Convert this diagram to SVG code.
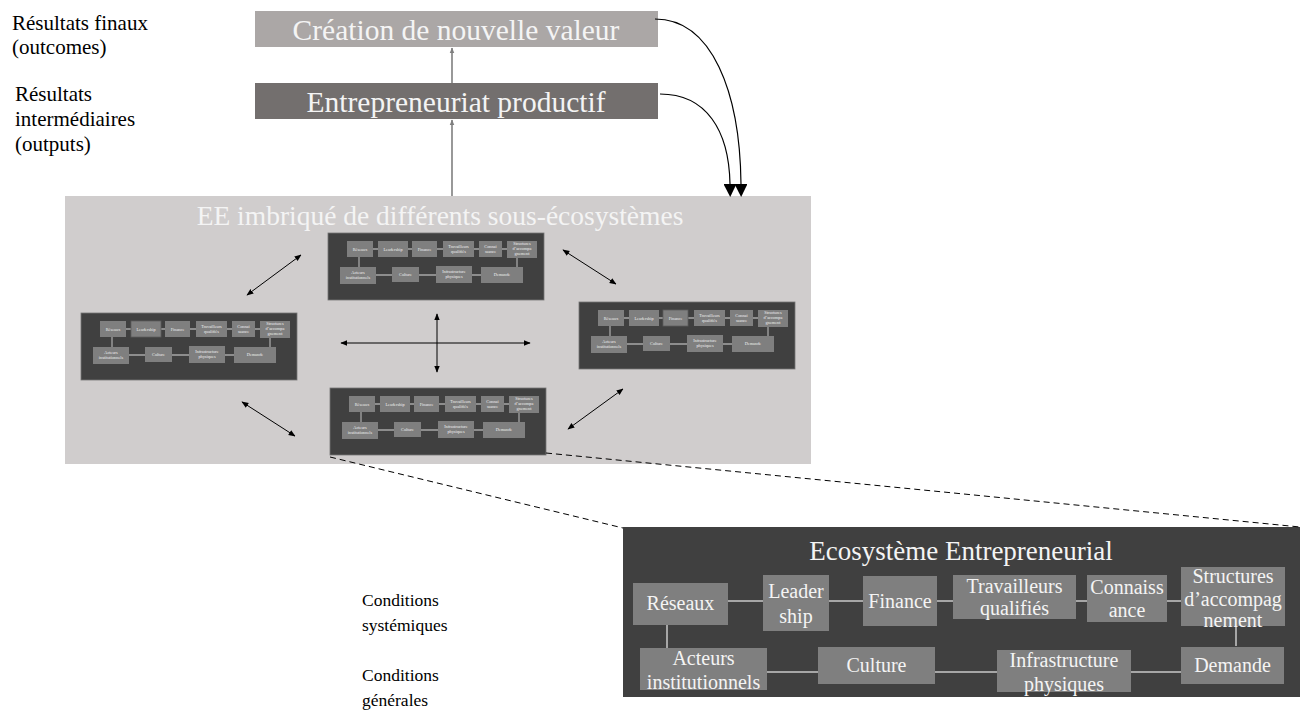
<svg xmlns="http://www.w3.org/2000/svg" xmlns:xlink="http://www.w3.org/1999/xlink" width="1304" height="713" viewBox="0 0 1304 713">
<style>
text{font-family:"Liberation Serif","Times New Roman",serif}
.lbl{fill:#000}
.wt{fill:#f4f4f4;text-anchor:middle}
.it{fill:#7f7f7f}
.ln{stroke:#a6a6a6;fill:none}
.mt{fill:#f0f0f0;text-anchor:middle;font-size:4.3px}
.dbl{stroke:#000;stroke-width:1;fill:none;marker-start:url(#ah);marker-end:url(#ah)}
.gar{stroke:#7f7f7f;stroke-width:1.6;fill:none;marker-end:url(#gh)}
</style>
<defs>
<marker id="ah" viewBox="0 0 10 10" refX="9" refY="5" markerWidth="7" markerHeight="7" markerUnits="userSpaceOnUse" orient="auto-start-reverse"><path d="M0,1 L10,5 L0,9 z" fill="#000"/></marker>
<marker id="gh" viewBox="0 0 10 10" refX="9" refY="5" markerWidth="6" markerHeight="6" markerUnits="userSpaceOnUse" orient="auto"><path d="M0,1 L10,5 L0,9 z" fill="#7f7f7f"/></marker>
<marker id="bh" viewBox="0 0 13 13" refX="0" refY="6.5" markerWidth="13" markerHeight="13" markerUnits="userSpaceOnUse" orient="auto"><path d="M0,0 L13,6.5 L0,13 z" fill="#000"/></marker>
<g id="mini">
<rect x="0" y="0" width="216" height="67" fill="#404040" stroke="#757575" stroke-width="0.8"/>
<path class="ln" stroke-width="1.3" d="M45,16 H179 M48,42 H153 M31,24 V34 M189,25 V34"/>
<rect class="it" x="19" y="8" width="26" height="16"/>
<rect class="it" x="50" y="8" width="30" height="16"/>
<rect class="it" x="84" y="8" width="25" height="16"/>
<rect class="it" x="115" y="8" width="31" height="16"/>
<rect class="it" x="151" y="8" width="23" height="16"/>
<rect class="it" x="179" y="8" width="30" height="17"/>
<rect class="it" x="12" y="34" width="36" height="17"/>
<rect class="it" x="64" y="34" width="27" height="15"/>
<rect class="it" x="108" y="33" width="36" height="17"/>
<rect class="it" x="153" y="34" width="42" height="16"/>
<text class="mt" x="32" y="17.5">Réseaux</text>
<text class="mt" x="65" y="17.5">Leadership</text>
<text class="mt" x="96.5" y="17.5">Finance</text>
<text class="mt" x="130.5" y="15">Travailleurs</text>
<text class="mt" x="130.5" y="20">qualifiés</text>
<text class="mt" x="162.5" y="15">Connai</text>
<text class="mt" x="162.5" y="20">ssance</text>
<text class="mt" x="194" y="11.5">Structures</text>
<text class="mt" x="194" y="16.5">d’accompa</text>
<text class="mt" x="194" y="21.5">gnement</text>
<text class="mt" x="30" y="41">Acteurs</text>
<text class="mt" x="30" y="46">institutionnels</text>
<text class="mt" x="77.5" y="43">Culture</text>
<text class="mt" x="126" y="40">Infrastructure</text>
<text class="mt" x="126" y="45">physiques</text>
<text class="mt" x="174" y="43">Demande</text>
</g>
</defs>
<rect width="1304" height="713" fill="#fff"/>

<g id="labels">
<text class="lbl" x="12" y="30" font-size="21">Résultats finaux</text>
<text class="lbl" x="12" y="54" font-size="21">(outcomes)</text>
<text class="lbl" x="15" y="101" font-size="21">Résultats</text>
<text class="lbl" x="15" y="126" font-size="21">intermédiaires</text>
<text class="lbl" x="15" y="151" font-size="21">(outputs)</text>
<text class="lbl" x="362" y="606" font-size="17.5">Conditions</text>
<text class="lbl" x="362" y="631" font-size="17.5">systémiques</text>
<text class="lbl" x="362" y="681" font-size="17.5">Conditions</text>
<text class="lbl" x="362" y="706" font-size="17.5">générales</text>
</g>

<g id="ee">
<rect x="65" y="196" width="746" height="268" fill="#d0cdcd"/>
<text class="wt" x="440" y="225" font-size="27.5">EE imbriqué de différents sous-écosystèmes</text>
</g>

<g id="valeur">
<rect x="255" y="11" width="403" height="36" fill="#aba7a6"/>
<text class="wt" x="456" y="40" font-size="29.5">Création de nouvelle valeur</text>
</g>
<g id="productif">
<rect x="255" y="83" width="403" height="36" fill="#736f6e"/>
<text class="wt" x="456" y="112" font-size="29.5">Entrepreneuriat productif</text>
</g>

<g id="eco-top"><use xlink:href="#mini" x="328" y="233"/></g>
<g id="eco-left"><use xlink:href="#mini" x="81" y="313"/><rect x="131" y="321" width="30" height="16" fill="none" stroke="#5c5c5c" stroke-width="0.8"/></g>
<g id="eco-right"><use xlink:href="#mini" x="579" y="302"/><rect x="663" y="310" width="25" height="16" fill="none" stroke="#5c5c5c" stroke-width="0.8"/></g>
<g id="eco-bottom"><use xlink:href="#mini" x="330" y="388"/></g>

<g id="eco-big">
<rect x="623" y="527" width="677" height="170" fill="#404040"/>
<text class="wt" x="961" y="560" font-size="27">Ecosystème Entrepreneurial</text>
<path class="ln" stroke-width="2" d="M728,601 H1181 M767,672 H1181 M667,625 V648 M1236,626 V646"/>
<rect class="it" x="633" y="583" width="95" height="42"/>
<rect class="it" x="763" y="575" width="66" height="56"/>
<rect class="it" x="863" y="576" width="74" height="50"/>
<rect class="it" x="953" y="575" width="123" height="44"/>
<rect class="it" x="1087" y="575" width="80" height="47"/>
<rect class="it" x="1181" y="567" width="104" height="59"/>
<rect class="it" x="640" y="648" width="127" height="42"/>
<rect class="it" x="818" y="647" width="117" height="37"/>
<rect class="it" x="997" y="650" width="134" height="42"/>
<rect class="it" x="1181" y="647" width="103" height="37"/>
<g font-size="20">
<text class="wt" x="680.5" y="610">Réseaux</text>
<text class="wt" x="796" y="598">Leader</text>
<text class="wt" x="796" y="623">ship</text>
<text class="wt" x="900" y="608">Finance</text>
<text class="wt" x="1014.5" y="593">Travailleurs</text>
<text class="wt" x="1014.5" y="615">qualifiés</text>
<text class="wt" x="1127" y="594">Connaiss</text>
<text class="wt" x="1127" y="617">ance</text>
<text class="wt" x="1233" y="583">Structures</text>
<text class="wt" x="1233" y="606">d’accompag</text>
<text class="wt" x="1233" y="627">nement</text>
<text class="wt" x="703.5" y="665">Acteurs</text>
<text class="wt" x="703.5" y="689">institutionnels</text>
<text class="wt" x="876.5" y="672">Culture</text>
<text class="wt" x="1064" y="667">Infrastructure</text>
<text class="wt" x="1064" y="691">physiques</text>
<text class="wt" x="1232.5" y="672">Demande</text>
</g>
</g>

<g id="connectors">
<line class="gar" x1="452" y1="196" x2="452" y2="120"/>
<line class="gar" x1="452" y1="83" x2="452" y2="48"/>
<path d="M655,19 C712,19 740,92 741,184" fill="none" stroke="#000" stroke-width="1.2" marker-end="url(#bh)"/>
<path d="M660,94 C706,94 729,130 730,184" fill="none" stroke="#000" stroke-width="1.2" marker-end="url(#bh)"/>
<line class="dbl" x1="247" y1="295" x2="301" y2="255"/>
<line class="dbl" x1="242" y1="402" x2="295" y2="436"/>
<line class="dbl" x1="341" y1="343" x2="530" y2="343"/>
<line class="dbl" x1="437" y1="314" x2="437" y2="372"/>
<line class="dbl" x1="563" y1="250" x2="616" y2="284"/>
<line class="dbl" x1="568" y1="429" x2="623" y2="389"/>
<line x1="330" y1="457" x2="623" y2="528" stroke="#000" stroke-width="1" stroke-dasharray="6,4"/>
<line x1="546" y1="453" x2="1300" y2="527" stroke="#000" stroke-width="1" stroke-dasharray="6,4"/>
</g>
</svg>
